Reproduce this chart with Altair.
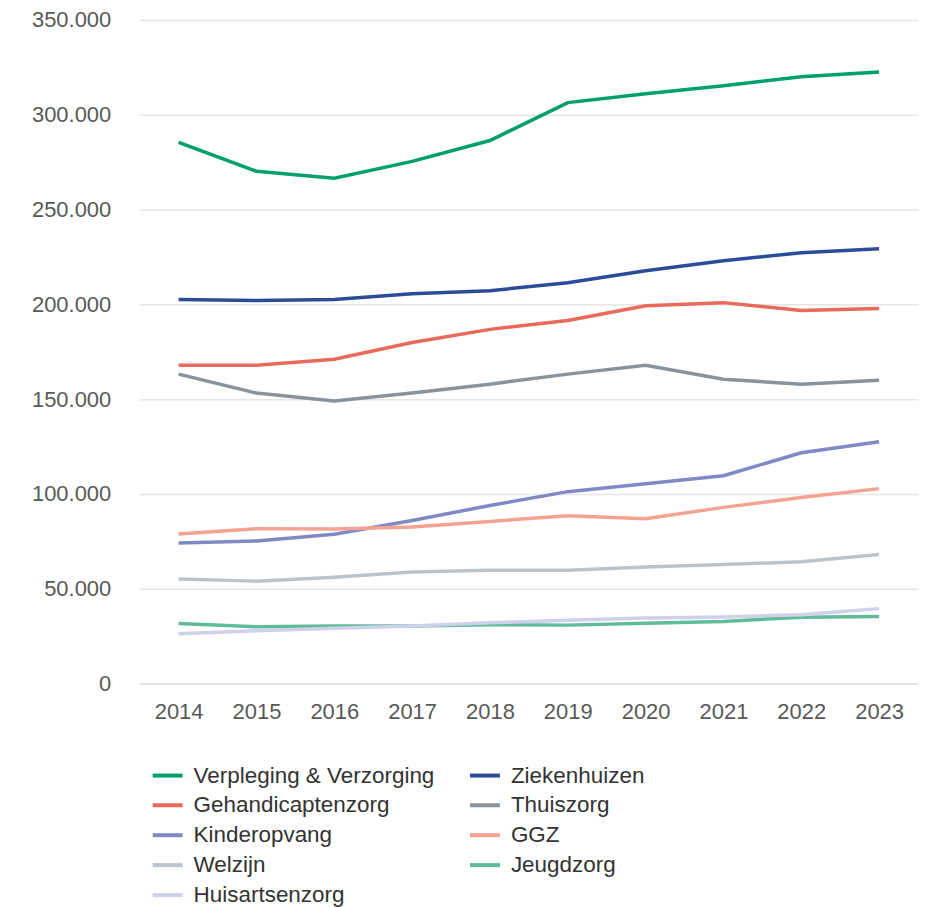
import altair as alt
import pandas as pd

years = [str(y) for y in range(2014, 2024)]
series = [
    "Verpleging & Verzorging", "Ziekenhuizen", "Gehandicaptenzorg", "Thuiszorg",
    "Kinderopvang", "GGZ", "Welzijn", "Jeugdzorg", "Huisartsenzorg",
]
colors = ["#00a06c", "#2c4b9b", "#e9695b", "#8a939c", "#8189c5",
          "#f4a292", "#bdc4c9", "#5fbc98", "#cfd0ea"]

verpleging = [285400, 270200, 266500, 275400, 286400, 306400, 311100, 315300, 320000, 322600]
ziekenhuizen = [202500, 202000, 202500, 205600, 207200, 211400, 217700, 223000, 227200, 229300]
gehandicapt = [167900, 167900, 171000, 179900, 186800, 191500, 199300, 200900, 196700, 197800]
thuiszorg = [163200, 153200, 149000, 153200, 157900, 163200, 167900, 160500, 157900, 160000]
kinderopvang = [74100, 75200, 78700, 86000, 93900, 101200, 105400, 109600, 121700, 127500]
ggz = [78900, 81700, 81500, 82500, 85500, 88500, 86900, 92900, 98100, 102800]
welzijn = [55100, 54000, 56000, 58800, 59800, 59800, 61500, 62800, 64200, 68000]
jeugdzorg = [31600, 29900, 30300, 30400, 31000, 30800, 31800, 32700, 35000, 35300]
huisarts = [26200, 27800, 29200, 30400, 32000, 33400, 34500, 35100, 36300, 39500]

values = [verpleging, ziekenhuizen, gehandicapt, thuiszorg, kinderopvang,
          ggz, welzijn, jeugdzorg, huisarts]

rows = []
for name, vals in zip(series, values):
    for y, v in zip(years, vals):
        rows.append({"Jaar": y, "Sector": name, "Aantal": v})
df = pd.DataFrame(rows)

chart = alt.Chart(df).mark_line(strokeWidth=3.5).encode(
    x=alt.X("Jaar:O", title=None,
            scale=alt.Scale(type="point", padding=0.5),
            axis=alt.Axis(labelAngle=0, ticks=False, domain=True, domainColor="#d9d9d9",
                          labelFontSize=22, labelColor="#595959", labelPadding=18,
                          labelFont="Liberation Sans", grid=False)),
    y=alt.Y("Aantal:Q", title=None,
            scale=alt.Scale(domain=[0, 350000]),
            axis=alt.Axis(values=list(range(0, 350001, 50000)), format=",.0f",
                          ticks=False, domain=False, labelFontSize=22,
                          labelColor="#595959", labelPadding=29,
                          labelFont="Liberation Sans", gridColor="#e6e6e6",
                          gridWidth=1.5, labelExpr="replace(datum.label, /,/g, '.')")),
    color=alt.Color("Sector:N", sort=series,
                    scale=alt.Scale(domain=series, range=colors),
                    legend=alt.Legend(title=None, orient="none", legendX=11, legendY=740,
                                      direction="horizontal",
                                      columns=2, symbolType="stroke", symbolSize=900,
                                      symbolStrokeWidth=4, labelFontSize=22.5,
                                      labelFont="Liberation Sans", labelColor="#333333",
                                      labelLimit=400, columnPadding=27, rowPadding=1,
                                      labelOffset=9)),
    order=alt.Order("Jaar:O"),
).properties(
    width=780, height=665,
    autosize=alt.AutoSizeParams(type="none"),
    padding={"left": 132, "top": 11, "right": 5, "bottom": 230},
).configure_view(stroke=None)

chart.save("out.html", embed_options={"renderer": "svg", "actions": False})
